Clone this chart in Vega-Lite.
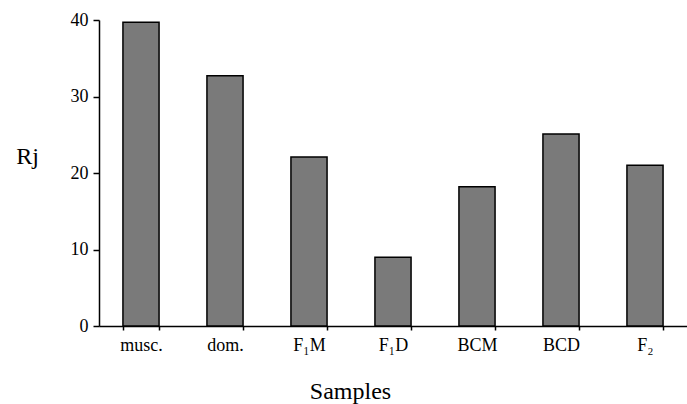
{
  "$schema": "https://vega.github.io/schema/vega-lite/v6.json",
  "width": 588,
  "height": 306,
  "autosize": "none",
  "padding": {"left": 99, "top": 20, "right": 0, "bottom": 78},
  "background": "white",
  "config": {
    "view": {"stroke": null},
    "font": "Liberation Serif"
  },
  "data": {
    "values": [
      {"sample": "musc.", "Rj": 39.7},
      {"sample": "dom.", "Rj": 32.7},
      {"sample": "F₁M", "Rj": 22.1},
      {"sample": "F₁D", "Rj": 9.0},
      {"sample": "BCM", "Rj": 18.2},
      {"sample": "BCD", "Rj": 25.1},
      {"sample": "F₂", "Rj": 21.0}
    ]
  },
  "mark": {"type": "bar", "fill": "#7a7a7a", "stroke": "black", "strokeWidth": 1.5},
  "encoding": {
    "x": {
      "field": "sample",
      "type": "nominal",
      "sort": null,
      "scale": {"paddingInner": 0.57, "paddingOuter": 0.285},
      "axis": {
        "title": "Samples",
        "titleFont": "Liberation Serif",
        "titleFontSize": 24,
        "titleFontWeight": "normal",
        "titleColor": "black",
        "titleAlign": "center",
        "titleBaseline": "alphabetic",
        "titleX": 251,
        "titleY": 72,
        "labelAngle": 0,
        "labelFont": "Liberation Serif",
        "labelFontSize": 18,
        "labelColor": "black",
        "labelPadding": 6,
        "tickBand": "extent",
        "tickSize": 4,
        "tickColor": "black",
        "tickWidth": 1.5,
        "domainColor": "black",
        "domainWidth": 1.5
      }
    },
    "y": {
      "field": "Rj",
      "type": "quantitative",
      "scale": {"domain": [0, 40], "nice": false},
      "axis": {
        "values": [0, 10, 20, 30, 40],
        "grid": false,
        "title": "Rj",
        "titleFont": "Liberation Serif",
        "titleFontSize": 24,
        "titleFontWeight": "normal",
        "titleColor": "black",
        "titleAngle": 0,
        "titleAlign": "center",
        "titleBaseline": "alphabetic",
        "titleX": -72,
        "titleY": 143,
        "labelFont": "Liberation Serif",
        "labelFontSize": 18,
        "labelColor": "black",
        "labelPadding": 5,
        "tickSize": 6,
        "tickColor": "black",
        "tickWidth": 1.5,
        "domainColor": "black",
        "domainWidth": 1.5
      }
    }
  }
}
